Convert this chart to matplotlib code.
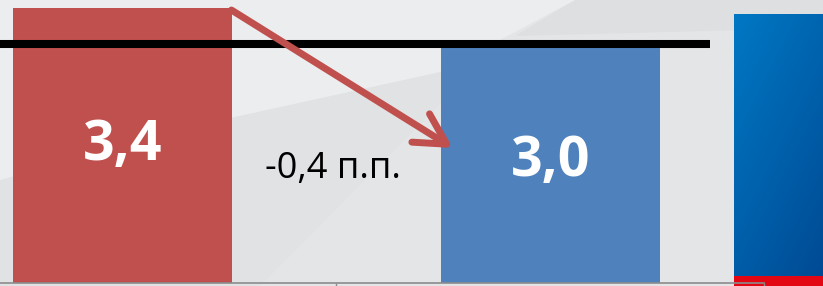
import numpy as np
import matplotlib.pyplot as plt
from matplotlib.colors import to_rgb
from matplotlib.patches import Polygon

# data
categories = ['2019', '2020']
values = [3.4, 3.0]
labels = ['3,4', '3,0']
bar_colors = ['#c0504d', '#4f81bd']
ref_level = 2.95
change_label = '-0,4 п.п.'

W, H = 823, 286
fig = plt.figure(figsize=(W / 100, H / 100), dpi=100)

# slide background (pixel coordinates)
bg = fig.add_axes([0, 0, 1, 1])
bg.axis('off')
bg.add_patch(Polygon([(0, 0), (W, 0), (W, H), (0, H)], color='#e4e5e7', lw=0))
bg.add_patch(Polygon([(575, 0), (W, 0), (W, 28), (515, 36)], color='#dedfe1', lw=0))
bg.add_patch(Polygon([(0, 180), (230, 118), (440, 72), (505, 38), (260, H), (0, H)],
                     color='#e1e2e4', lw=0))
bg.add_patch(Polygon([(0, 0), (575, 0), (440, 72), (230, 118), (0, 180)],
                     color='#ecedef', lw=0))

# blue side panel with red strip
c1, c2 = np.array(to_rgb('#0078c4')), np.array(to_rgb('#004a94'))
gx, gy = np.meshgrid(np.linspace(0, 1, 60), np.linspace(0, 1, 200))
t = (gx * 0.4 + gy * 0.6)[..., None]
grad = c1 * (1 - t) + c2 * t
bg.imshow(grad, extent=[734, W, 276, 14], aspect='auto', interpolation='bilinear', zorder=3)
bg.add_patch(Polygon([(734, 276), (W, 276), (W, H), (734, H)], color='#e30613', lw=0, zorder=3))
bg.set_xlim(0, W)
bg.set_ylim(H, 0)

# chart
ax = fig.add_axes([0, 0, 1, 1])
ax.patch.set_alpha(0)
x = np.arange(len(categories))
ax.bar(x, values, width=0.512, color=bar_colors, edgecolor='none', zorder=2)
ax.set_xlim(-0.286, 1.637)
ax.set_ylim(-0.037, 3.499)

ax.hlines(ref_level, -0.3, 1.373, color='black', lw=5.8, zorder=3)

for xi, v, lab in zip(x, values, labels):
    ax.text(xi, v / 2, lab, ha='center', va='center', color='white',
            fontsize=40, fontweight='bold', family='Open Sans', zorder=4)

ax.text(0.492, 1.41, change_label, ha='center', va='center', color='black',
        fontsize=26, family='Open Sans', zorder=4)

ax.annotate('', xy=(0.772, 1.669), xytext=(0.2547, 3.375),
            arrowprops=dict(arrowstyle='->,head_length=22,head_width=12',
                            mutation_scale=1, color='#c0504d', lw=5,
                            capstyle='round', shrinkA=0, shrinkB=0),
            zorder=5)

for s in ['top', 'left', 'right']:
    ax.spines[s].set_visible(False)
ax.spines['bottom'].set_color('#8c8c8c')
ax.spines['bottom'].set_linewidth(1.2)
ax.spines['bottom'].set_position(('data', 0))
ax.spines['bottom'].set_bounds(-0.5, 1.5)
ax.set_xticks([0.5, 1.5])
ax.set_xticklabels([])
ax.tick_params(axis='x', direction='out', length=3, color='#8c8c8c', width=1)
ax.set_yticks([])

fig.savefig('out.png', dpi=100)
